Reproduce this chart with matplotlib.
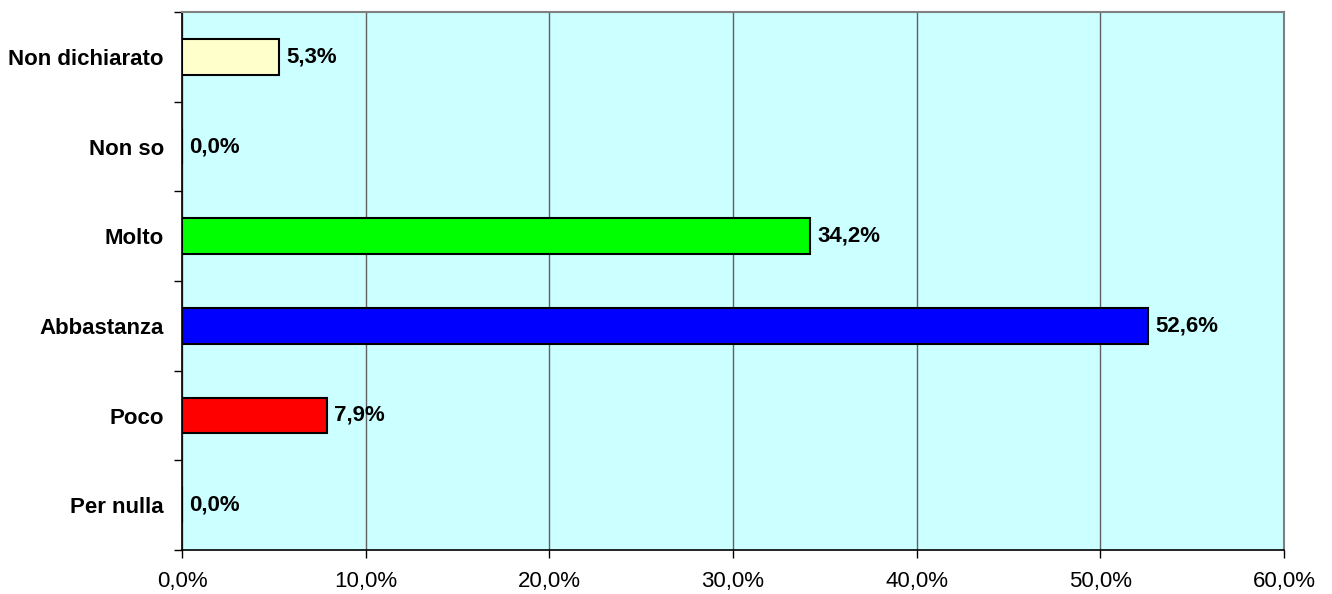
import matplotlib
matplotlib.use("Agg")
import matplotlib.pyplot as plt
from matplotlib.ticker import FixedLocator, FuncFormatter

# ── Data ──────────────────────────────────────────────────────────
categories = ['Per nulla', 'Poco', 'Abbastanza', 'Molto', 'Non so', 'Non dichiarato']
values     = [0.0, 7.9, 52.6, 34.2, 0.0, 5.3]
colors     = ['#FF0000', '#FF0000', '#0000FF', '#00FF00', '#FFFFCC', '#FFFFCC']
x_ticks    = [0, 10, 20, 30, 40, 50, 60]

plt.rcParams['font.family'] = ['Liberation Sans', 'DejaVu Sans']

fig = plt.figure(figsize=(13.32, 5.94), dpi=100)
ax = fig.add_axes([182/1332, 1 - 550/594, (1284 - 182)/1332, (550 - 12)/594])
ax.set_facecolor('#CCFFFF')

y = list(range(len(categories)))
ax.barh(y, values, height=0.40, color=colors, edgecolor='black',
        linewidth=1.5, zorder=3)

for yi, v in zip(y, values):
    ax.annotate(f"{v:.1f}%".replace('.', ','), (v, yi), xytext=(5, 0),
                textcoords='offset points', va='center', ha='left',
                fontsize=16, fontweight='bold', zorder=4)

ax.set_xlim(0, 60)
ax.set_ylim(-0.5, len(categories) - 0.5)
ax.set_xticks(x_ticks)
ax.xaxis.set_major_formatter(FuncFormatter(lambda v, p: f"{v:.1f}%".replace('.', ',')))
ax.tick_params(axis='x', labelsize=16, direction='out', length=6, width=1, pad=9)

ax.set_yticks(y)
ax.set_yticklabels(categories, fontsize=16, fontweight='bold')
ax.tick_params(axis='y', which='major', length=0, pad=13)
ax.yaxis.set_minor_locator(FixedLocator([i - 0.5 for i in range(len(categories) + 1)]))
ax.tick_params(axis='y', which='minor', direction='out', length=6, width=1)

ax.grid(axis='x', color='#606060', linewidth=1, zorder=1)
ax.set_axisbelow(True)

for side in ['left', 'bottom']:
    ax.spines[side].set_color('black')
    ax.spines[side].set_linewidth(1.2)
for side in ['top', 'right']:
    ax.spines[side].set_color('#808080')
    ax.spines[side].set_linewidth(1.5)

plt.savefig('out.png', dpi=100)
